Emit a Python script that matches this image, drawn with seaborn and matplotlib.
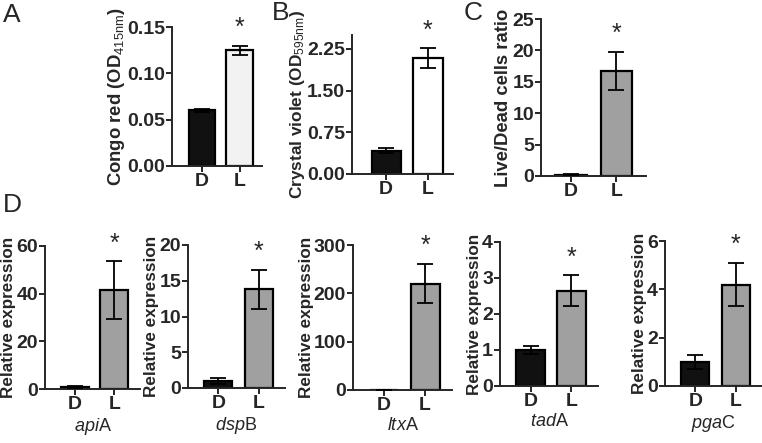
import numpy as np
import pandas as pd
import matplotlib
matplotlib.use("Agg")
import matplotlib.pyplot as plt
import seaborn as sns

sns.set_style("ticks")
plt.rcParams['font.family'] = ['Liberation Sans', 'DejaVu Sans']
plt.rcParams['mathtext.fontset'] = 'custom'
plt.rcParams['mathtext.rm'] = 'Liberation Sans'
plt.rcParams['mathtext.it'] = 'Liberation Sans:italic'
plt.rcParams['mathtext.bf'] = 'Liberation Sans:bold'

groups = ['D', 'L']

# panel A: congo red
congo_mean = [0.060, 0.125]
congo_err = [0.002, 0.005]
# panel B: crystal violet
crystal_mean = [0.42, 2.08]
crystal_err = [0.04, 0.18]
# panel C: live/dead ratio
livedead_mean = [0.2, 16.7]
livedead_err = [0.05, 3.0]
# panel D: relative expression
genes = ['api', 'dsp', 'ltx', 'tad', 'pga']
gene_suffix = ['A', 'B', 'A', 'A', 'C']
expr_mean = [[0.8, 41.5], [1.0, 13.8], [0.5, 220.0], [1.0, 2.65], [1.0, 4.2]]
expr_err = [[0.3, 12.0], [0.4, 2.7], [0.1, 41.0], [0.12, 0.43], [0.28, 0.9]]

W, H = 762, 443
fig = plt.figure(figsize=(W / 100, H / 100), dpi=100)


def px_axes(left, right, top, bottom):
    return fig.add_axes([left / W, 1 - bottom / H, (right - left) / W, (bottom - top) / H])


def bar_panel(ax, means, errs, fill, ylim, yticks, fmt, ylabel, xlabel=None,
              xlim=(-0.75, 1.65), ylabel_size=12.3):
    df = pd.DataFrame({'group': groups, 'value': means})
    sns.barplot(data=df, x='group', y='value', hue='group', palette=['#111111', fill],
                legend=False, edgecolor='black', linewidth=1.6, width=0.7,
                errorbar=None, ax=ax)
    ax.errorbar([0, 1], means, yerr=errs, fmt='none', ecolor='black',
                elinewidth=1.3, capsize=6, capthick=1.3, zorder=5)
    ax.text(1, means[1] + errs[1] + (ylim[1] - ylim[0]) * 0.04, '*',
            ha='center', va='bottom', fontsize=18)
    ax.set_ylim(*ylim)
    ax.set_xlim(*xlim)
    ax.set_yticks(yticks)
    ax.set_yticklabels([fmt.format(t) for t in yticks], fontweight='bold')
    ax.set_xticks([0, 1])
    ax.set_xticklabels(groups, fontweight='bold')
    ax.tick_params(axis='both', width=1.4, length=4, pad=1, labelsize=14)
    ax.set_ylabel(ylabel, fontweight='bold', fontsize=ylabel_size, labelpad=0)
    ax.set_xlabel(xlabel if xlabel else '', fontsize=13, labelpad=2)
    for s in ['top', 'right']:
        ax.spines[s].set_visible(False)
    for s in ['left', 'bottom']:
        ax.spines[s].set_linewidth(1.4)
    ax.set_facecolor('none')


axA = px_axes(172, 262, 27, 166)
bar_panel(axA, congo_mean, congo_err, '#f2f2f2', (0, 0.15), [0, 0.05, 0.10, 0.15],
          '{:.2f}', 'Congo red (OD$_{\\mathrm{415nm}}$)', xlim=(-0.8, 1.6),
          ylabel_size=13.3)

axB = px_axes(352, 453, 35, 174)
bar_panel(axB, crystal_mean, crystal_err, '#ffffff', (0, 2.5), [0, 0.75, 1.5, 2.25],
          '{:.2f}', 'Crystal violet (OD$_{\\mathrm{595nm}}$)', xlim=(-0.82, 1.6),
          ylabel_size=12.4)

axC = px_axes(541, 646, 19, 176)
bar_panel(axC, livedead_mean, livedead_err, '#a0a0a0', (0, 25), [0, 5, 10, 15, 20, 25],
          '{:d}', 'Live/Dead cells ratio', xlim=(-0.66, 1.65), ylabel_size=13.3)

d_boxes = [(45, 140, 246, 389), (188, 285, 245, 388), (353, 452, 245, 390),
           (500, 598, 242, 386), (665, 762, 241, 386)]
d_lims = [(0, 60), (0, 20), (0, 300), (0, 4), (0, 6)]
d_ticks = [[0, 20, 40, 60], [0, 5, 10, 15, 20], [0, 100, 200, 300],
           [0, 1, 2, 3, 4], [0, 2, 4, 6]]
for i in range(5):
    ax = px_axes(*d_boxes[i])
    bar_panel(ax, expr_mean[i], expr_err[i], '#a0a0a0', d_lims[i], d_ticks[i], '{:d}',
              'Relative expression',
              xlabel='$\\mathit{' + genes[i] + '}$' + gene_suffix[i])

for letter, x, y in [('A', 3, 3), ('B', 272, 1), ('C', 464, 1), ('D', 3, 193)]:
    fig.text(x / W, 1 - y / H, letter, fontsize=19, ha='left', va='top')

fig.savefig('out.png', dpi=100)
